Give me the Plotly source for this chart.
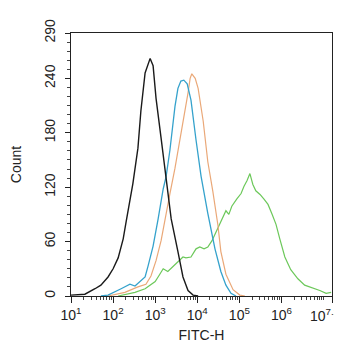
import numpy as np
import plotly.graph_objects as go

# x positions are in decades (log10 of FITC-H), y are counts
black_x = [1.0, 1.33, 1.57, 1.71, 1.88, 2.00, 2.12, 2.24, 2.31, 2.40, 2.47, 2.59, 2.66, 2.76, 2.83, 2.88,
           2.95, 3.02, 3.14, 3.26, 3.38, 3.54, 3.66, 3.78, 3.90, 4.02]
black_y = [1, 2, 8, 12, 21, 30, 42, 63, 82, 107, 124, 163, 204, 246, 257, 262,
           254, 218, 174, 126, 85, 49, 21, 6, 1, 0]

blue_x = [1.71, 1.88, 2.19, 2.40, 2.52, 2.64, 2.76, 2.83, 2.95, 3.07, 3.19, 3.26, 3.35, 3.47, 3.54, 3.61,
          3.68, 3.76, 3.85, 3.97, 4.09, 4.25, 4.42, 4.56, 4.68, 4.80, 4.92]
blue_y = [0, 1, 8, 13, 11, 16, 21, 33, 55, 85, 118, 132, 161, 209, 229, 237,
          238, 234, 216, 172, 132, 91, 52, 27, 12, 3, 0]

orange_x = [1.88, 2.28, 2.59, 2.78, 2.90, 3.02, 3.14, 3.23, 3.35, 3.47, 3.61, 3.71, 3.78, 3.83, 3.87,
            3.95, 4.02, 4.14, 4.25, 4.37, 4.49, 4.56, 4.68, 4.85, 5.01, 5.13]
orange_y = [0, 4, 10, 13, 22, 39, 61, 85, 113, 141, 177, 207, 224, 240, 245,
            240, 229, 193, 148, 115, 78, 49, 24, 7, 1, 0]

green_x = [2.12, 2.52, 2.76, 3.00, 3.11, 3.19, 3.30, 3.42, 3.54, 3.66, 3.73, 3.85, 3.97, 4.06, 4.16,
           4.25, 4.35, 4.44, 4.56, 4.68, 4.75, 4.82, 4.94, 5.04, 5.11, 5.18, 5.25, 5.32, 5.39, 5.49,
           5.58, 5.68, 5.77, 5.87, 5.96, 6.08, 6.22, 6.39, 6.55, 6.75, 6.91, 7.06, 7.18]
green_y = [0, 4, 8, 16, 24, 30, 27, 32, 37, 43, 42, 43, 52, 54, 52,
           54, 61, 70, 83, 94, 90, 99, 107, 113, 121, 127, 135, 123, 116, 112,
           107, 101, 91, 79, 63, 43, 29, 19, 12, 9, 6, 3, 4]

x_tick_exps = [1, 2, 3, 4, 5, 6, 7.2]
x_tick_text = ["10<sup>1</sup>", "10<sup>2</sup>", "10<sup>3</sup>", "10<sup>4</sup>",
               "10<sup>5</sup>", "10<sup>6</sup>", ""]
last_tick_text = "10<sup>7.2</sup>"
y_ticks = [0, 60, 120, 180, 240, 290]

FONT = "Arial, Liberation Sans, sans-serif"

fig = go.Figure()
series = [
    (green_x, green_y, "#6cc85a", 1.2),
    (orange_x, orange_y, "#eaa878", 1.2),
    (blue_x, blue_y, "#35a2cc", 1.3),
    (black_x, black_y, "#1a1a1a", 1.4),
]
for xs, ys, col, w in series:
    fig.add_trace(go.Scatter(x=10 ** np.array(xs), y=ys, mode="lines",
                             line=dict(color=col, width=w), showlegend=False, hoverinfo="skip"))

fig.update_layout(
    width=342, height=350,
    margin=dict(l=63, r=18, t=25, b=62),
    plot_bgcolor="white", paper_bgcolor="white",
    font=dict(family=FONT, size=14, color="#222"),
)
# last tick label drawn as annotation so it can sit slightly left and stay inside the page
fig.add_annotation(x=x_tick_exps[-1], xref="x", y=0, yref="paper", text=last_tick_text,
                   showarrow=False, xanchor="right", yanchor="top", xshift=8, yshift=-9,
                   borderpad=0, font=dict(size=14, family=FONT, color="#222"))
fig.update_xaxes(
    type="log", range=[1, 7.2], automargin=False,
    tickvals=[10 ** e for e in x_tick_exps], ticktext=x_tick_text,
    ticks="outside", ticklen=6, tickcolor="#222", tickwidth=1,
    showline=True, linecolor="#222", linewidth=1.2, mirror=True,
    showgrid=False, zeroline=False,
    tickfont=dict(size=14, family=FONT, color="#222"),
    minor=dict(ticks="outside", ticklen=3, tickcolor="#444", dtick="D1", showgrid=False),
    title=dict(text="FITC-H", font=dict(size=14, family=FONT, color="#222"), standoff=8),
)
fig.update_yaxes(
    range=[0, 290], tickvals=y_ticks, tickangle=-90, automargin=False,
    ticks="outside", ticklen=5, tickcolor="#222", tickwidth=1,
    showline=True, linecolor="#222", linewidth=1.2, mirror=True,
    showgrid=False, zeroline=False, ticklabelstandoff=4,
    tickfont=dict(size=14, family=FONT, color="#222"),
    minor=dict(ticks="outside", ticklen=3, tickcolor="#444", dtick=10, showgrid=False),
    title=dict(text="Count", font=dict(size=14, family=FONT, color="#222"), standoff=18),
)
fig.write_html("out.html")
